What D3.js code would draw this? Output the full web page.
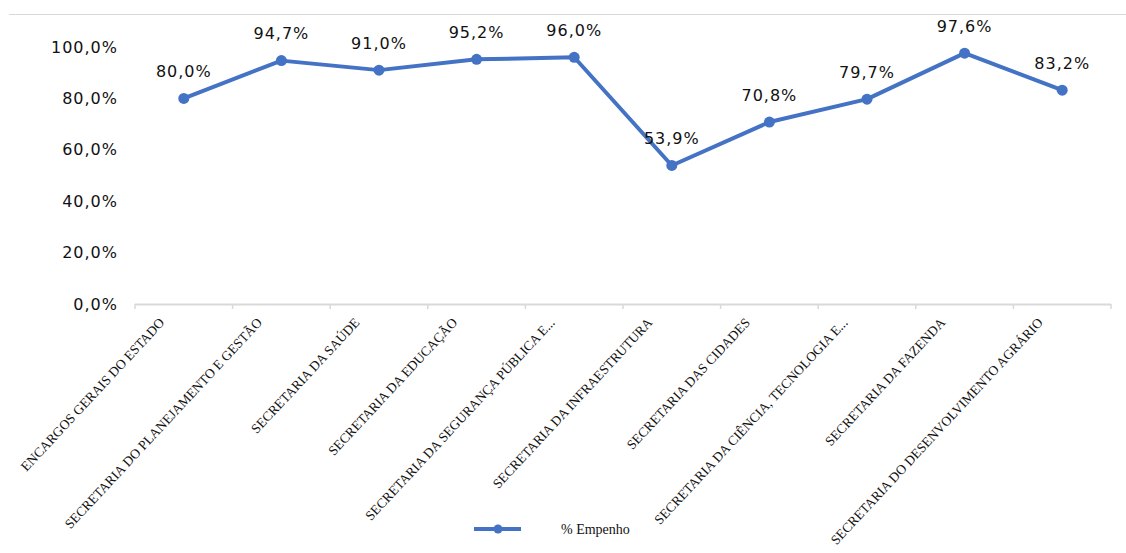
<!DOCTYPE html>
<html>
<head>
<meta charset="utf-8">
<script src="https://cdn.jsdelivr.net/npm/d3@7"></script>
<style>
  html, body { margin: 0; padding: 0; background: #fff; }
  svg { display: block; }
</style>
</head>
<body>
<svg id="chart" width="1126" height="553"></svg>
<script>
// Categories (budget units) and execution rate ("% Empenho")
const categories = [
  "ENCARGOS GERAIS DO ESTADO",
  "SECRETARIA DO PLANEJAMENTO E GESTÃO",
  "SECRETARIA DA SAÚDE",
  "SECRETARIA DA EDUCAÇÃO",
  "SECRETARIA DA SEGURANÇA PÚBLICA E...",
  "SECRETARIA DA INFRAESTRUTURA",
  "SECRETARIA DAS CIDADES",
  "SECRETARIA DA CIÊNCIA, TECNOLOGIA E...",
  "SECRETARIA DA FAZENDA",
  "SECRETARIA DO DESENVOLVIMENTO AGRÁRIO"
];
const empenho = [80.0, 94.7, 91.0, 95.2, 96.0, 53.9, 70.8, 79.7, 97.6, 83.2];
const yTicks = [0, 20, 40, 60, 80, 100];
const seriesName = "% Empenho";

const svg = d3.select("#chart");
const blue = "#4472C4";
const fmt = v => v.toFixed(1).replace(".", ",") + "%";

const x = d3.scaleBand().domain(categories).range([135, 1111]);
const y = d3.scaleLinear().domain([0, 100]).range([304, 47]);

// chart frame top edge
svg.append("line")
  .attr("x1", 9).attr("x2", 1126).attr("y1", 14.5).attr("y2", 14.5)
  .attr("stroke", "#d9d9d9").attr("stroke-width", 1);

// y axis labels (no axis line)
const yAxis = svg.append("g").attr("transform", "translate(118,0)")
  .call(d3.axisLeft(y).tickValues(yTicks).tickSize(0).tickPadding(0).tickFormat(fmt));
yAxis.select(".domain").remove();
yAxis.selectAll("text")
  .attr("font-family", "DejaVu Sans, sans-serif")
  .attr("font-size", 16)
  .attr("letter-spacing", 1)
  .attr("fill", "#111");

// x axis with boundary ticks
const xAxis = svg.append("g").attr("transform", "translate(0,304)");
xAxis.append("line")
  .attr("x1", 135).attr("x2", 1111).attr("y1", 0.5).attr("y2", 0.5)
  .attr("stroke", "#d9d9d9").attr("stroke-width", 2);
const bounds = categories.map(c => x(c)).concat([x.range()[1]]);
xAxis.selectAll("line.tick").data(bounds).join("line")
  .attr("class", "tick")
  .attr("x1", d => d).attr("x2", d => d)
  .attr("y1", 0).attr("y2", 5)
  .attr("stroke", "#d9d9d9").attr("stroke-width", 1.5);

// rotated category labels
svg.append("g").selectAll("text").data(categories).join("text")
  .attr("transform", d => `translate(${x(d) + x.bandwidth() / 2 - 22},${320}) rotate(-47)`)
  .attr("text-anchor", "end")
  .attr("dy", "0.35em")
  .attr("font-family", "Liberation Serif, serif")
  .attr("font-size", 13.5)
  .attr("fill", "#111")
  .text(d => d);

// series line
const cx = (d, i) => x(categories[i]) + x.bandwidth() / 2;
const line = d3.line().x((d, i) => cx(d, i)).y(d => y(d));
svg.append("path")
  .datum(empenho)
  .attr("d", line)
  .attr("fill", "none")
  .attr("stroke", blue)
  .attr("stroke-width", 4)
  .attr("stroke-linejoin", "round");

svg.append("g").selectAll("circle").data(empenho).join("circle")
  .attr("cx", cx).attr("cy", d => y(d))
  .attr("r", 5.5).attr("fill", blue);

// value labels
svg.append("g").selectAll("text").data(empenho).join("text")
  .attr("x", cx).attr("y", d => y(d) - 27)
  .attr("text-anchor", "middle")
  .attr("dy", "0.35em")
  .attr("font-family", "DejaVu Sans, sans-serif")
  .attr("font-size", 16)
  .attr("letter-spacing", 1)
  .attr("fill", "#111")
  .text(fmt);

// legend
const lg = svg.append("g").attr("transform", "translate(474,529)");
lg.append("line").attr("x1", 0).attr("x2", 47).attr("y1", 0).attr("y2", 0)
  .attr("stroke", blue).attr("stroke-width", 4);
lg.append("circle").attr("cx", 24).attr("cy", 0).attr("r", 4.5).attr("fill", blue);
lg.append("text").attr("x", 87).attr("y", 0).attr("dy", "0.35em")
  .attr("font-family", "Liberation Serif, serif").attr("font-size", 14)
  .attr("fill", "#111").text(seriesName);
</script>
</body>
</html>
